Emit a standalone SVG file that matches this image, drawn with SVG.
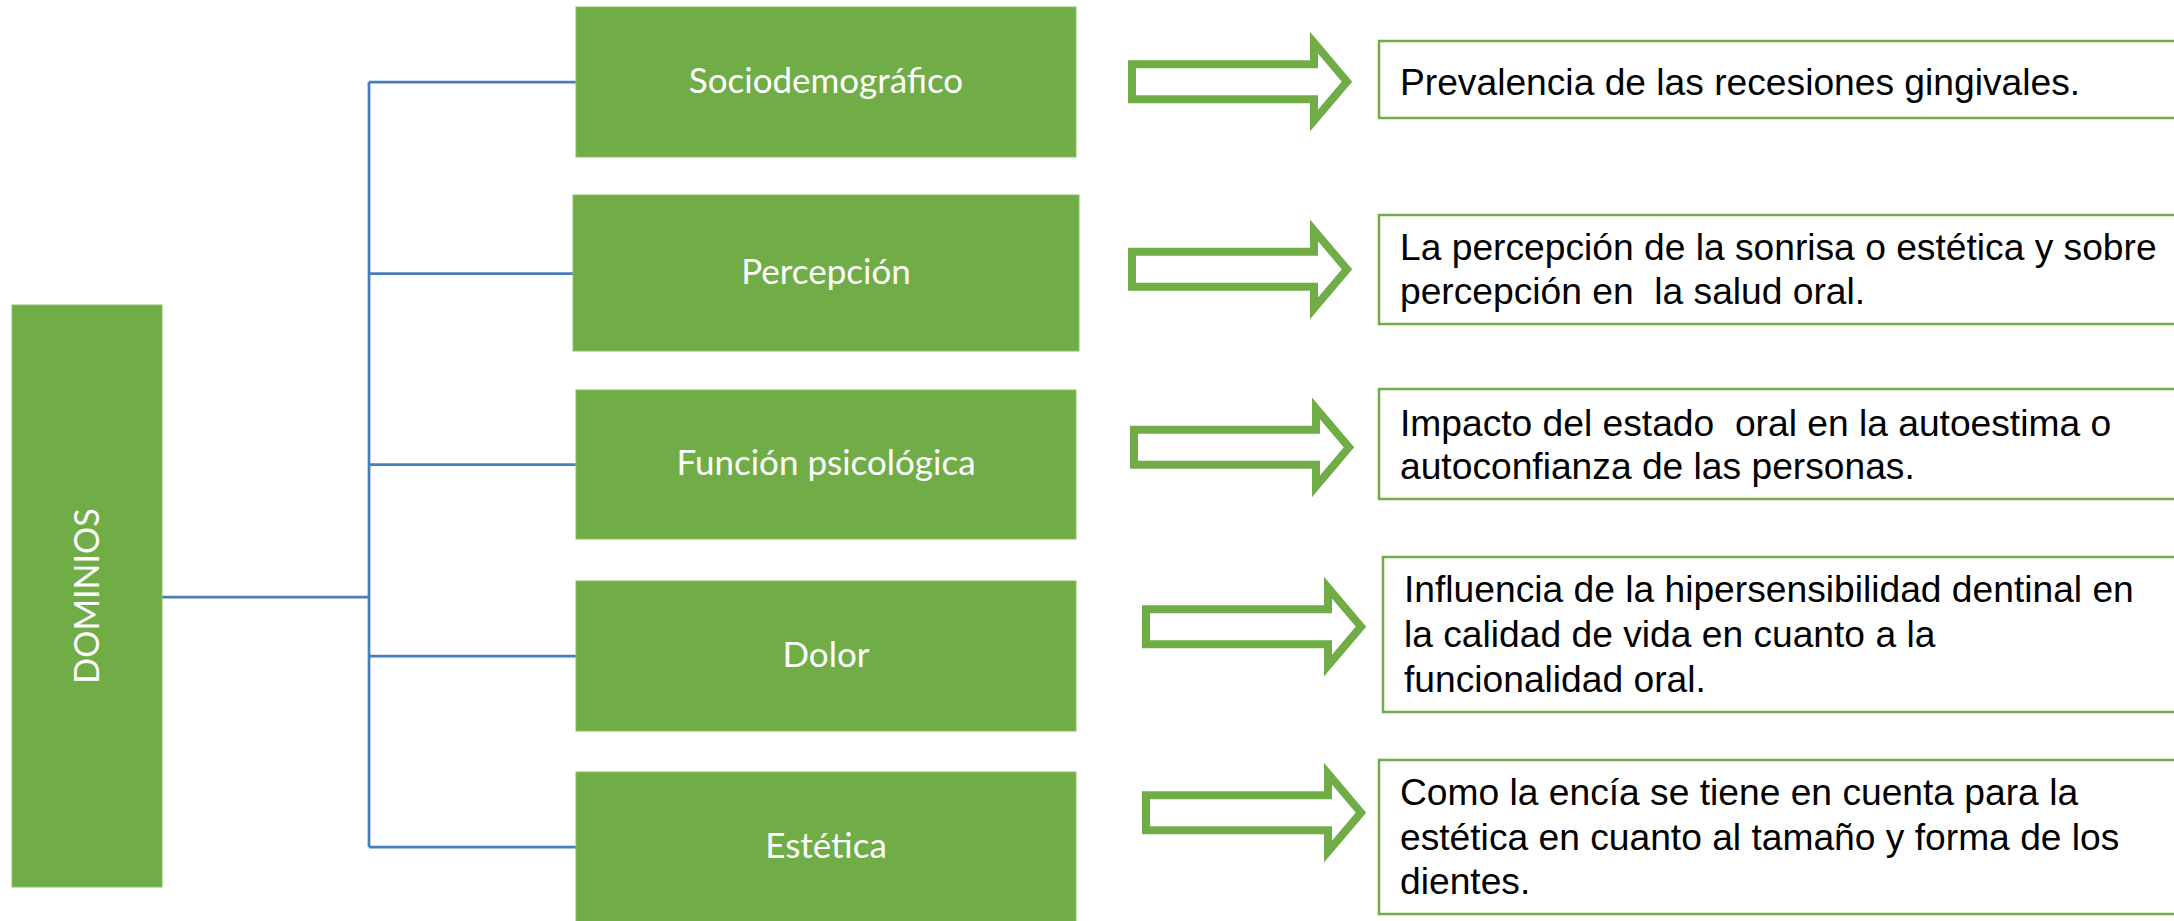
<svg xmlns="http://www.w3.org/2000/svg" width="2174" height="921" viewBox="0 0 2174 921">
<style>
.gbox{fill:#70AD47;stroke:#8CC068;stroke-width:1}
.gtxt{font-family:Lato,"Open Sans",sans-serif;font-size:35px;fill:#FFFFFF;text-anchor:middle}
.conn{stroke:#4A7EBB;stroke-width:2.75;fill:none}
.arrow{fill:#FFFFFF;stroke:#70AD47;stroke-width:8;stroke-linejoin:miter;stroke-miterlimit:10}
.tbox{fill:#FFFFFF;stroke:#70AD47;stroke-width:2.5}
.ttxt{font-family:"Liberation Sans",Arial,sans-serif;font-size:37.2px;fill:#000000}
</style>
<rect width="2174" height="921" fill="#FFFFFF"/>
<g id="connectors">
<path class="conn" d="M162 597 H369 M369 82 V847 M369 82 H576 M369 273.5 H573 M369 464.5 H576 M369 656 H576 M369 847 H576"/>
</g>
<g id="dominios">
<rect class="gbox" x="12" y="305" width="150" height="582"/>
<text class="gtxt" x="87" y="596" transform="rotate(-90 87 596)" dy="12" style="font-size:34px">DOMINIOS</text>
</g>
<g id="sociodemografico">
<rect class="gbox" x="576" y="7" width="500" height="150"/>
<text class="gtxt" x="826" y="93">Sociodemográfico</text>
</g>
<g id="percepcion">
<rect class="gbox" x="573" y="195" width="506" height="156"/>
<text class="gtxt" x="826" y="284">Percepción</text>
</g>
<g id="funcion">
<rect class="gbox" x="576" y="390" width="500" height="149"/>
<text class="gtxt" x="826" y="475">Función psicológica</text>
</g>
<g id="dolor">
<rect class="gbox" x="576" y="581" width="500" height="150"/>
<text class="gtxt" x="826" y="667">Dolor</text>
</g>
<g id="estetica">
<rect class="gbox" x="576" y="772" width="500" height="152"/>
<text class="gtxt" x="826" y="858">Estética</text>
</g>
<g id="arrow1"><path class="arrow" d="M1132 64.2 H1314 V42.7 L1347 81.7 L1314 120.7 V99.2 H1132 Z"/></g>
<g id="arrow2"><path class="arrow" d="M1132 251.8 H1314 V230.3 L1347 269.3 L1314 308.3 V286.8 H1132 Z"/></g>
<g id="arrow3"><path class="arrow" d="M1134 429.8 H1316 V408.3 L1349 447.3 L1316 486.3 V464.8 H1134 Z"/></g>
<g id="arrow4"><path class="arrow" d="M1146 609.2 H1328 V587.7 L1361 626.7 L1328 665.7 V644.2 H1146 Z"/></g>
<g id="arrow5"><path class="arrow" d="M1146 795.2 H1328 V773.7 L1361 812.7 L1328 851.7 V830.2 H1146 Z"/></g>
<g id="t1">
<rect class="tbox" x="1379" y="41" width="800" height="77"/>
<text class="ttxt" x="1400" y="95">Prevalencia de las recesiones gingivales.</text>
</g>
<g id="t2">
<rect class="tbox" x="1379" y="215" width="800" height="109"/>
<text class="ttxt" x="1400" y="260">La percepción de la sonrisa o estética y sobre</text>
<text class="ttxt" x="1400" y="304" xml:space="preserve">percepción en  la salud oral.</text>
</g>
<g id="t3">
<rect class="tbox" x="1379" y="389" width="800" height="110"/>
<text class="ttxt" x="1400" y="436" xml:space="preserve">Impacto del estado  oral en la autoestima o</text>
<text class="ttxt" x="1400" y="479">autoconfianza de las personas.</text>
</g>
<g id="t4">
<rect class="tbox" x="1383" y="557" width="800" height="155"/>
<text class="ttxt" x="1404" y="602">Influencia de la hipersensibilidad dentinal en</text>
<text class="ttxt" x="1404" y="647">la calidad de vida en cuanto a la</text>
<text class="ttxt" x="1404" y="692">funcionalidad oral.</text>
</g>
<g id="t5">
<rect class="tbox" x="1379" y="760" width="800" height="154"/>
<text class="ttxt" x="1400" y="805">Como la encía se tiene en cuenta para la</text>
<text class="ttxt" x="1400" y="850">estética en cuanto al tamaño y forma de los</text>
<text class="ttxt" x="1400" y="894">dientes.</text>
</g>
</svg>
